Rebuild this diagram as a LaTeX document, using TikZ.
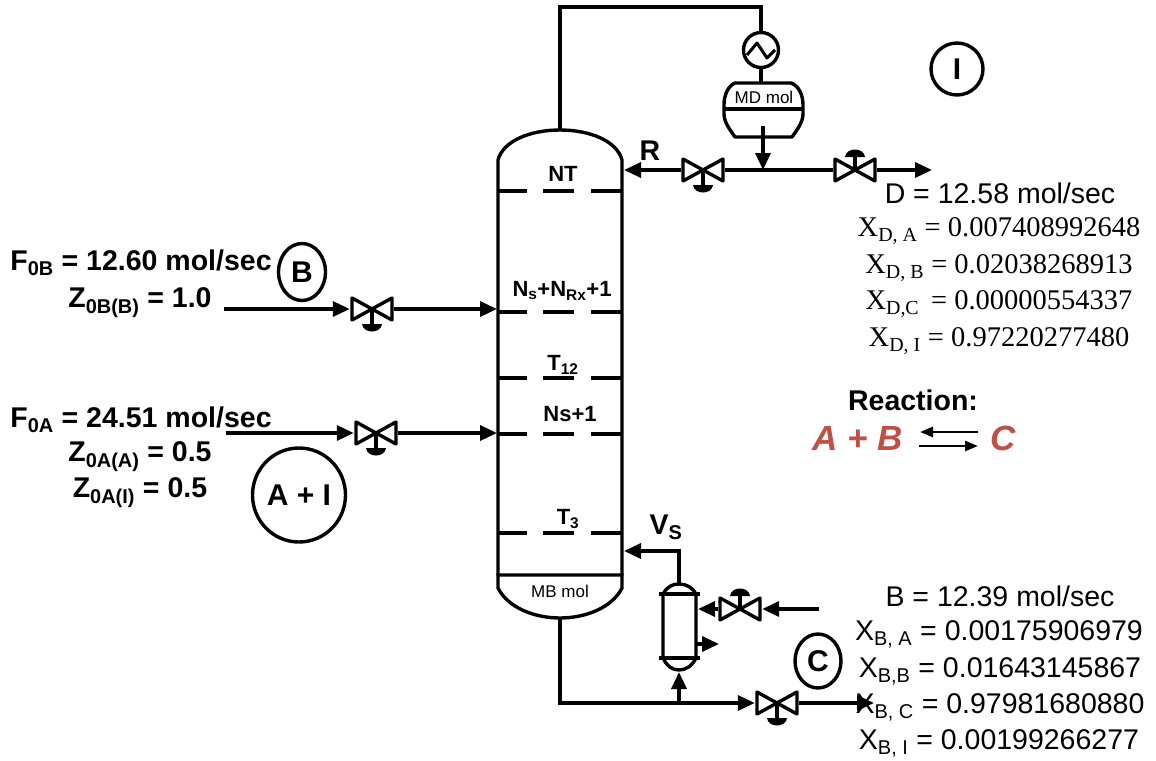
\documentclass[tikz,border=0pt]{standalone}
\usepackage{fontspec}
\setmainfont{Liberation Sans}
\newfontfamily\timesfont{Liberation Serif}
\usetikzlibrary{arrows.meta,shapes.geometric}
\definecolor{rxred}{RGB}{192,80,70}
\newcommand{\bigtxt}{\fontsize{28.5}{30}\selectfont}
\newcommand{\rxtxt}{\fontsize{35}{37}\selectfont\bfseries\itshape}
\tikzset{
   pipe/.style={line width=3.4pt},
   flow/.style={pipe,-{Triangle[length=17pt,width=15pt]}},
   eqflow/.style={line width=2.6pt,-{Triangle[length=13pt,width=10pt]}},
   boldtxt/.style={font=\bigtxt\bfseries,inner sep=0pt},
   plaintxt/.style={font=\bigtxt,inner sep=0pt},
   seriftxt/.style={font=\bigtxt\timesfont,inner sep=0pt},
   traytxt/.style={font=\fontsize{22}{24}\selectfont\bfseries,inner sep=0pt},
   smalltxt/.style={font=\fontsize{17}{20}\selectfont,inner sep=0pt},
   rxntxt/.style={font=\rxtxt,text=rxred,inner sep=0pt},
   tag/.style={ellipse,draw,line width=3.4pt,font=\fontsize{30}{32}\selectfont\bfseries,inner sep=0pt},
   valvebox/.style={minimum width=44pt,minimum height=25pt,inner sep=0pt},
   pics/valvedown/.style={code={
      \draw[pipe,line join=round,fill=white] (-20,-11) -- (20,11) -- (20,-11) -- (-20,11) -- cycle;
      \draw[pipe] (0,0) -- (0,16);
      \fill (-10,15) -- (10,15) .. controls (9,25) and (-9,25) .. (-10,15) -- cycle;
   }},
   pics/valveup/.style={code={
      \draw[pipe,line join=round,fill=white] (-20,-11) -- (20,11) -- (20,-11) -- (-20,11) -- cycle;
      \draw[pipe] (0,0) -- (0,-16);
      \fill (-10,-13) -- (10,-13) .. controls (9,-23) and (-9,-23) .. (-10,-13) -- cycle;
   }}
}
\begin{document}
\begin{tikzpicture}[x=1pt,y=-1pt]
   \useasboundingbox (0,0) rectangle (1156,760);

   % column
   \draw[pipe] (498,575) -- (498,160) .. controls (503,141) and (530,130) .. (560,130)
      .. controls (590,130) and (617,141) .. (622,160) -- (622,575);
   \draw[pipe] (498,575) -- (622,575) -- (622,588) .. controls (612,608) and (585,618) .. (560,618)
      .. controls (535,618) and (508,608) .. (498,588) -- cycle;
   \foreach \y in {191,312,378,434,533}
      \draw[pipe] (497,\y) -- (527,\y) (543,\y) -- (574,\y) (591,\y) -- (622,\y);

   \coordinate (coltop) at (560,130);
   \coordinate (colbot) at (560,618);
   \coordinate (colR) at (624,170);
   \coordinate (colB) at (497,309);
   \coordinate (colA) at (497,433);
   \coordinate (colV) at (624,551);

   % condenser and drum
   \node[circle,draw,line width=3.4pt,minimum size=35pt,inner sep=0pt] (cond) at (761,50) {};
   \draw[line width=3pt,line join=round] (747,55) -- (757,43) -- (767,58) -- (775,50);
   \draw[pipe] (coltop) -- (560,7) -- (761,7) -- (cond.north);
   \coordinate (drumtop) at (761,83);
   \draw[pipe] (cond.south) -- (drumtop);
   \draw[pipe,line join=round] (735,83) -- (791,83) .. controls (799,86) and (803,95) .. (803,105)
      -- (803,114) .. controls (803,122) and (797,130) .. (792,137) -- (735,137)
      .. controls (730,130) and (724,122) .. (724,114) -- (724,105)
      .. controls (724,95) and (728,86) .. (735,83) -- cycle;
   \draw[pipe] (724,109) -- (803,109);
   \node[smalltxt] (mdmol) at (764,97) {MD mol};
   \node[smalltxt] (mbmol) at (560,591) {MB mol};

   % top line
   \node[valvebox] (vR) at (703,170) {};
   \node[valvebox] (vD) at (855,170) {};
   \coordinate (tee) at (763,170);
   \coordinate (drumout) at (763,126);
   \coordinate (Dout) at (932,170);
   \pic at (vR) {valvedown};
   \pic at (vD) {valveup};
   \draw[flow] (vR.west) -- (colR);
   \draw[pipe] (vR.east) -- (vD.west);
   \draw[flow] (vD.east) -- (Dout);
   \draw[flow] (drumout) -- (tee);

   % feeds
   \node[valvebox] (vB) at (372,309) {};
   \node[valvebox] (vA) at (376,433) {};
   \coordinate (Bin) at (224,309);
   \coordinate (Ain) at (226,433);
   \pic at (vB) {valvedown};
   \pic at (vA) {valvedown};
   \draw[flow] (Bin) -- (vB.west);
   \draw[flow] (vB.east) -- (colB);
   \draw[flow] (Ain) -- (vA.west);
   \draw[flow] (vA.east) -- (colA);

   % reboiler
   \draw[pipe,fill=white] (663,594) .. controls (667,587) and (672,584) .. (679,584)
      .. controls (686,584) and (692,587) .. (696,594) -- (696,658)
      .. controls (692,666) and (686,670) .. (679,670) .. controls (672,670) and (667,666) .. (663,658) -- cycle;
   \draw[pipe] (659,594) -- (700,594) (659,658) -- (700,658);
   \coordinate (rebtop) at (679,584);
   \coordinate (rebbot) at (679,672);
   \coordinate (rebin) at (698,609);
   \coordinate (rebout) at (697,644);
   \coordinate (rebend) at (719,644);
   \coordinate (steam) at (819,609);
   \node[valvebox] (vS) at (740,609) {};
   \pic at (vS) {valveup};
   \draw[flow] (rebtop) -- (679,551) -- (colV);
   \draw[flow] (steam) -- (vS.east);
   \draw[flow] (vS.west) -- (rebin);
   \draw[flow] (rebout) -- (rebend);

   % bottoms
   \node[valvebox] (vC) at (777,703) {};
   \coordinate (split) at (679,703);
   \coordinate (Cout) at (874,703);
   \pic at (vC) {valvedown};
   \draw[flow] (colbot) -- (560,703) -- (vC.west);
   \draw[flow] (split) -- (rebbot);
   \draw[flow] (vC.east) -- (Cout);

   % tray labels
   \node[traytxt] (lNT) at (563,174) {NT};
   \node[traytxt] (lRx) at (562,291) {N\textsubscript{s}+N\textsubscript{Rx}+1};
   \node[traytxt] (l12) at (563,365) {T\textsubscript{12}};
   \node[traytxt] (lNs) at (570,414) {Ns+1};
   \node[traytxt] (l3) at (568,519) {T\textsubscript{3}};
   \node[boldtxt] (lR) at (650,151) {R};
   \node[boldtxt] (lV) at (666,527) {V\textsubscript{S}};

   % tags
   \node[tag,minimum width=47pt,minimum height=57pt] (tagB) at (302,272) {B};
   \node[tag,minimum width=93pt,minimum height=94pt] (tagA) at (299,495) {A + I};
   \node[tag,minimum width=52pt,minimum height=52pt] (tagI) at (957,69) {I};
   \node[tag,minimum width=46pt,minimum height=54pt] (tagC) at (818,661) {C};

   % feed data
   \node[boldtxt] (fB) at (141,263) {F\textsubscript{0B} = 12.60 mol/sec};
   \node[boldtxt] (zB) at (140,303) {Z\textsubscript{0B(B)} = 1.0};
   \node[boldtxt] (fA) at (141,420) {F\textsubscript{0A} = 24.51 mol/sec};
   \node[boldtxt] (zA) at (140,457) {Z\textsubscript{0A(A)} = 0.5};
   \node[boldtxt] (zI) at (140,493) {Z\textsubscript{0A(I)} = 0.5};

   % distillate data
   \node[plaintxt] (dD) at (1000,193) {D = 12.58 mol/sec};
   \node[seriftxt] (xDA) at (999,231) {X\textsubscript{D, A} = 0.007408992648};
   \node[seriftxt] (xDB) at (999,268) {X\textsubscript{D, B} = 0.02038268913};
   \node[seriftxt] (xDC) at (999,304) {X\textsubscript{D,C}\, = 0.00000554337};
   \node[seriftxt] (xDI) at (999,341) {X\textsubscript{D, I} = 0.97220277480};

   % reaction
   \node[boldtxt] (rxn) at (913,400) {Reaction:};
   \node[rxntxt] (rxAB) at (858,438) {A + B};
   \node[rxntxt] (rxC) at (1003,438) {C};
   \coordinate (eqL1) at (920,432);
   \coordinate (eqR1) at (978,432);
   \coordinate (eqL2) at (919,446);
   \coordinate (eqR2) at (978,446);
   \draw[eqflow] (eqR1) -- (eqL1);
   \draw[eqflow] (eqL2) -- (eqR2);

   % bottoms data
   \node[plaintxt] (bB) at (1000,596) {B = 12.39 mol/sec};
   \node[plaintxt] (xBA) at (999,634) {X\textsubscript{B, A} = 0.00175906979};
   \node[plaintxt] (xBB) at (1000,671) {X\textsubscript{B,B} = 0.01643145867};
   \node[plaintxt] (xBC) at (1000,707) {X\textsubscript{B, C} = 0.97981680880};
   \node[plaintxt] (xBI) at (999,743) {X\textsubscript{B, I} = 0.00199266277};
\end{tikzpicture}
\end{document}
